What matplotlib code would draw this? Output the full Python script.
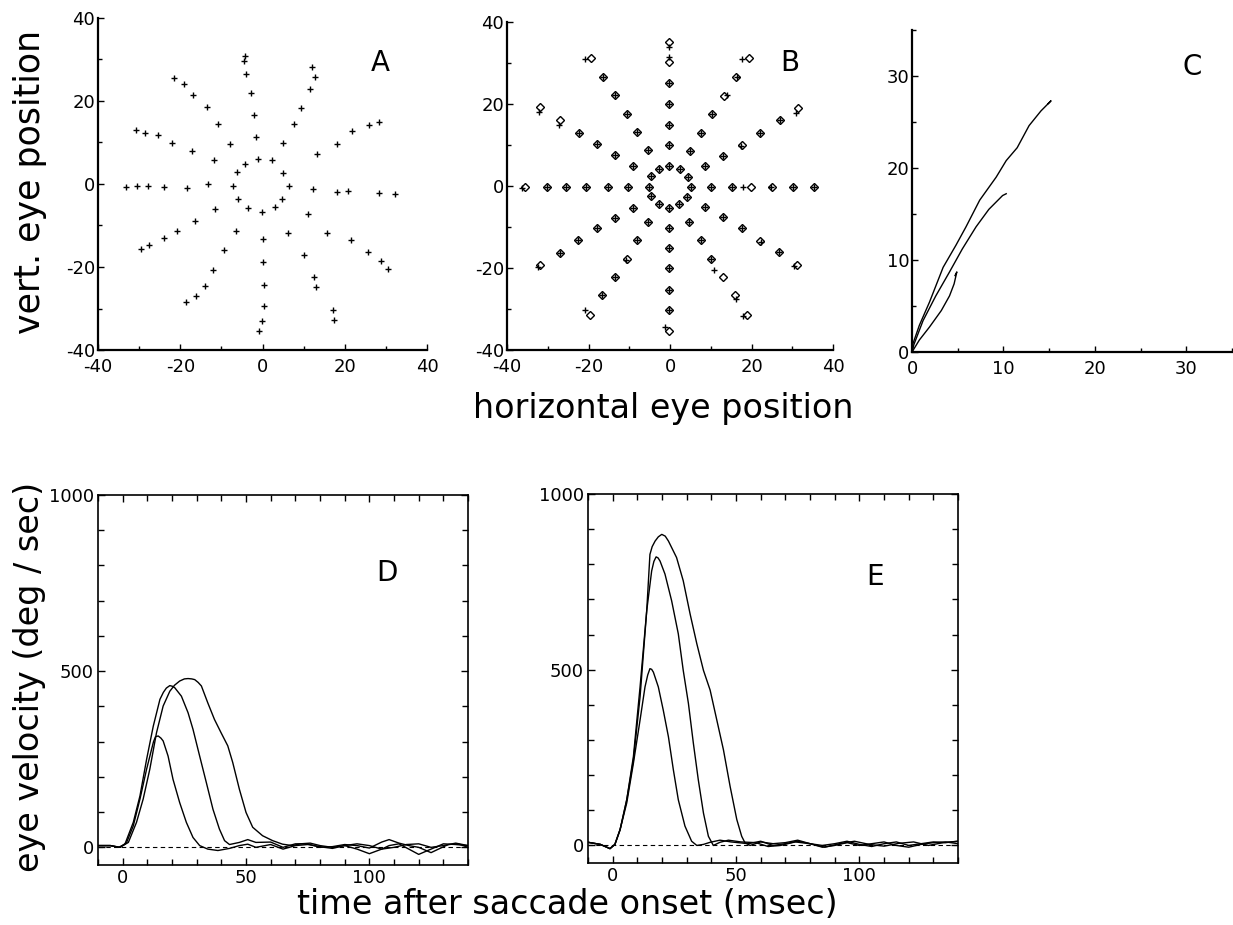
import numpy as np
import matplotlib
matplotlib.use("Agg")
import matplotlib.pyplot as plt
from matplotlib.ticker import MultipleLocator

plt.rcParams['font.family'] = ['DejaVu Sans']
plt.rcParams['axes.unicode_minus'] = False

# ---- panel A: saccade end points (+)
a_x = [-4.2, -4.4, -3.9, -2.9, -2.0, -1.5, -1.0,
       12.1, 12.7, 11.6, 9.3, 7.6, 5.0, 2.2,
       28.3, 25.9, 21.7, 18.2, 13.3, 5.0,
       32.1, 28.4, 20.9, 18.0, 12.3, 6.4,
       4.7, 11.0, 15.8, 21.6, 25.6, 28.8, 30.5,
       3.1, 6.3, 10.2, 12.6, 12.9, 17.1, 17.4,
       -0.2, 0.1, 0.2, 0.4, 0.4, -0.2, -0.8,
       -3.5, -6.4, -9.3, -12.0, -14.1, -16.1, -18.7,
       -5.9, -11.5, -16.4, -20.8, -24.0, -27.5, -29.5,
       -7.1, -13.3, -18.4, -23.9, -27.8, -30.6, -33.1,
       -6.3, -11.9, -17.1, -22.0, -25.3, -28.5, -30.7,
       -4.2, -7.9, -10.9, -13.6, -16.8, -19.2, -21.5]
a_y = [30.9, 29.7, 26.4, 21.9, 16.7, 11.3, 5.9,
       28.1, 25.8, 23.0, 18.4, 14.4, 9.8, 5.7,
       15.0, 14.1, 12.7, 9.6, 7.3, 2.7,
       -2.4, -2.1, -1.8, -1.9, -1.2, -0.6,
       -3.6, -7.2, -11.7, -13.5, -16.3, -18.5, -20.5,
       -5.6, -11.7, -17.0, -22.3, -24.8, -30.4, -32.8,
       -6.7, -13.3, -18.8, -24.4, -29.3, -33.1, -35.5,
       -5.9, -11.3, -15.8, -20.8, -24.5, -27.1, -28.5,
       -3.5, -6.1, -9.0, -11.3, -13.0, -14.6, -15.6,
       -0.4, 0.1, -1.0, -0.7, -0.5, -0.4, -0.7,
       2.8, 5.7, 8.0, 9.9, 11.8, 12.4, 13.0,
       4.9, 9.6, 14.4, 18.6, 21.4, 24.0, 25.6]

# ---- panel B: targets (diamonds) and eye positions (+)
b_target_x = [5.1, 10.0, 15.1, 19.9, 25.1, 30.2, 35.3,
              4.3, 8.6, 13.1, 17.6, 22.0, 26.9, 31.4,
              2.4, 5.0, 7.7, 10.4, 13.3, 16.2, 19.4,
              -0.2, -0.2, -0.2, -0.2, -0.2, -0.2, -0.2,
              -2.7, -5.4, -8.0, -10.6, -13.6, -16.4, -19.4,
              -4.7, -9.1, -13.6, -18.0, -22.4, -26.9, -31.8,
              -5.1, -10.3, -15.3, -20.5, -25.6, -30.2, -35.5,
              -4.7, -9.1, -13.6, -18.0, -22.7, -26.9, -31.9,
              -2.8, -5.4, -8.0, -10.6, -13.6, -16.7, -19.7,
              -0.2, -0.2, -0.2, -0.2, -0.2, -0.2, -0.2,
              2.2, 4.7, 7.5, 10.1, 12.9, 15.9, 19.0,
              4.2, 8.7, 13.1, 17.6, 22.0, 26.7, 31.2]
b_target_y = [-0.2, -0.2, -0.2, -0.2, -0.2, -0.2, -0.2,
              2.2, 4.9, 7.4, 10.0, 13.0, 16.0, 19.1,
              4.1, 8.5, 13.0, 17.5, 21.9, 26.6, 31.3,
              4.9, 9.9, 14.8, 19.9, 25.2, 30.2, 35.1,
              4.2, 8.7, 13.2, 17.5, 22.1, 26.6, 31.3,
              2.4, 5.0, 7.6, 10.3, 13.0, 16.2, 19.3,
              -0.2, -0.2, -0.2, -0.2, -0.2, -0.2, -0.2,
              -2.4, -5.3, -7.7, -10.3, -13.2, -16.4, -19.3,
              -4.5, -8.8, -13.1, -17.7, -22.1, -26.6, -31.4,
              -5.3, -10.2, -15.2, -20.1, -25.3, -30.2, -35.3,
              -4.5, -8.8, -13.2, -17.7, -22.3, -26.6, -31.5,
              -2.7, -5.1, -7.6, -10.2, -13.4, -16.2, -19.3]
b_eye_x = [5.1, 10.0, 15.1, 18.0, 24.8, 30.2, 35.3,
           4.3, 8.6, 13.1, 17.4, 22.0, 26.9, 30.9,
           2.4, 5.0, 7.7, 10.4, 13.9, 16.4, 17.6,
           -0.2, -0.2, -0.2, -0.2, -0.2, -0.2, -0.2,
           -2.7, -5.4, -8.0, -10.6, -13.6, -16.4, -20.9,
           -4.7, -9.1, -13.6, -18.0, -22.4, -27.2, -32.2,
           -5.1, -10.3, -15.3, -20.5, -25.6, -30.2, -36.3,
           -4.7, -9.1, -13.6, -18.0, -22.7, -26.9, -32.5,
           -2.8, -5.4, -8.0, -10.8, -13.6, -16.7, -20.8,
           -0.2, -0.2, -0.2, -0.2, -0.2, -0.2, -1.2,
           2.2, 4.7, 7.5, 10.1, 10.9, 16.1, 17.9,
           4.2, 8.7, 13.1, 17.6, 22.3, 26.7, 30.4]
b_eye_y = [-0.2, -0.2, -0.2, -0.2, -0.2, -0.2, -0.2,
           2.2, 4.9, 7.4, 9.8, 13.0, 16.0, 17.9,
           4.1, 8.5, 13.0, 17.5, 22.2, 26.7, 31.0,
           4.9, 9.9, 14.8, 19.9, 25.2, 31.4, 33.9,
           4.2, 8.7, 13.2, 17.5, 22.1, 26.6, 31.0,
           2.4, 5.0, 7.6, 10.3, 13.0, 15.0, 18.0,
           -0.2, -0.2, -0.2, -0.2, -0.2, -0.2, -0.4,
           -2.4, -5.3, -7.7, -10.3, -13.2, -16.4, -19.7,
           -4.5, -8.8, -13.1, -18.0, -22.1, -26.6, -30.2,
           -5.3, -10.2, -15.2, -20.1, -25.3, -30.2, -34.5,
           -4.5, -8.8, -13.2, -17.7, -20.6, -27.6, -31.7,
           -2.7, -5.1, -7.6, -10.2, -13.6, -16.2, -19.5]

# ---- panel C: trajectories
c1_x = [0, 0.1, 0.8, 1.9, 3.4, 4.8, 5.9, 7.4, 9.2, 10.3, 11.5, 12.8, 14.1, 15.0, 15.2, 14.9]
c1_y = [0, 0.9, 2.9, 5.4, 9.2, 11.6, 13.6, 16.5, 19.0, 20.8, 22.2, 24.6, 26.2, 27.1, 27.3, 27.0]
c2_x = [0, 0.2, 1.2, 2.6, 4.1, 5.5, 7.0, 8.4, 9.9, 10.3]
c2_y = [0, 0.8, 3.4, 6.1, 8.7, 11.2, 13.6, 15.5, 17.0, 17.2]
c3_x = [0, 0.8, 1.9, 3.2, 4.1, 4.6, 4.9, 4.7]
c3_y = [0, 1.3, 2.7, 4.5, 6.1, 7.4, 8.7, 8.3]

# ---- panel D: velocity traces
d1_t = [-10, -5, -1, 1.6, 4.3, 7, 9.7, 11.7, 12.5, 13.3, 14.4, 15.5, 16.4, 18.4, 20.4, 23.1,
        25.8, 28.5, 31.2, 34.5, 38.6, 43.3, 47.3, 50.7, 54, 60, 65, 70, 75, 80, 85, 90, 95,
        100, 105, 108, 112, 116, 120, 125, 130, 135, 140]
d1_v = [5, 5, 0, 14, 61, 137, 222, 278, 300, 314, 316, 310, 302, 259, 193, 127,
        71, 28, 5, -5, -9, -3, 5, 9, 0, 8, -5, 5, 8, 2, -3, 5, -5,
        -18, -5, 5, 10, -5, -20, -5, 10, 8, 5]
d2_t = [-10, -5, -1.7, 0.9, 4.3, 7, 9.7, 12.4, 15.1, 16.5, 17.7, 19.1, 20.2, 21.1, 23.8, 26.5,
        28.5, 31.2, 33.9, 36.6, 39.2, 41.3, 43.3, 47.3, 50.7, 54, 60, 65, 70, 75, 80, 85, 90,
        95, 100, 105, 108, 112, 116, 120, 125, 128, 132, 136, 140]
d2_v = [5, 5, 0, 9, 71, 146, 250, 344, 420, 440, 452, 459, 457, 453, 429, 382,
        335, 259, 184, 108, 52, 19, 8, 14, 22, 14, 15, 0, 10, 10, 0, 2, 8,
        5, -2, 15, 22, 12, 5, 0, -15, -5, 8, 10, 0]
d3_t = [-10, -5, -1.1, 2.3, 5.6, 8.3, 11, 13.7, 16.4, 19.1, 21, 23.1, 25, 26.5, 28, 29.2, 30.6,
        31.9, 34.5, 37.2, 39.9, 42.6, 44.6, 47.3, 50, 52.7, 56.7, 60.8, 64.8, 68.8, 72, 76,
        80, 85, 90, 95, 100, 105, 110, 115, 120, 125, 130, 135, 140]
d3_v = [5, 5, 0, 14, 71, 137, 222, 325, 401, 443, 460, 472, 478, 479, 478, 476, 468,
        458, 410, 363, 325, 288, 241, 165, 99, 57, 33, 19, 9, 5, 10, 12,
        5, 0, 5, 10, 5, -5, 0, 8, 10, 0, 5, 12, 5]

# ---- panel E: velocity traces
e1_t = [-10, -5, -1.1, 0.9, 3, 5.7, 8.4, 11.1, 13.1, 14.2, 15.1, 15.8, 16.5, 18.5, 20.5, 22.6,
        24.6, 26.6, 29.3, 32, 34.1, 36.8, 39.5, 43.5, 48, 55, 60, 65, 70, 75, 80, 85, 90, 95,
        100, 105, 110, 115, 120, 125, 130, 135, 140]
e1_v = [9, 3, -9, 3, 45, 121, 234, 357, 451, 485, 503, 501, 493, 451, 385, 309,
        215, 130, 55, 12, 0, 3, 9, 15, 10, 5, 12, 0, 5, 12, 5, -5, 0, 8,
        0, 5, 10, 0, -5, 3, 8, 10, 5]
e2_t = [-10, -5, -1.1, 0.9, 3, 5.7, 8.4, 11.1, 13.8, 15.8, 16.7, 17.6, 18.4, 19.2, 21.2, 23.9,
        26.6, 28.6, 30.7, 32.7, 34.7, 36.8, 38.8, 40.8, 43.5, 46.9, 52, 58, 63, 68, 74, 80,
        86, 92, 98, 104, 110, 116, 122, 128, 134, 140]
e2_v = [9, 3, -9, 3, 45, 130, 253, 451, 668, 781, 808, 821, 818, 809, 772, 696,
        602, 498, 404, 291, 187, 92, 26, 0, 9, 15, 10, 8, -3, 0, 10, 5,
        -5, 5, 12, 3, -2, 6, 10, 0, 8, 12]
e3_t = [-10, -5, -1.1, 0.9, 3, 5.7, 8.4, 11.1, 13.8, 15.1, 16, 17.2, 18.5, 19.9, 21.3, 22.6,
        25.9, 28.6, 31.4, 34.1, 36.8, 39.5, 42.2, 44.9, 47.6, 50.3, 52.3, 53.6, 55.7, 60, 65,
        70, 75, 80, 85, 90, 95, 100, 105, 110, 115, 120, 125, 130, 135, 140]
e3_v = [9, 3, -9, 3, 45, 130, 243, 423, 668, 828, 850, 866, 878, 885, 880, 866,
        819, 753, 658, 574, 498, 442, 357, 272, 168, 74, 26, 8, 0, 10, 5,
        8, 15, 5, 0, 5, 12, 3, -3, 5, 10, 0, 5, 10, 8, 12]

label_size = 24
tick_size = 13
letter_size = 20


def style_open(ax, lim, major, minor):
    # only left/bottom axis lines, ticks pointing inward
    ax.spines['top'].set_visible(False)
    ax.spines['right'].set_visible(False)
    ax.spines['left'].set_linewidth(1.6)
    ax.spines['bottom'].set_linewidth(1.6)
    ax.set_xlim(lim)
    ax.set_ylim(lim)
    ax.xaxis.set_major_locator(MultipleLocator(major))
    ax.yaxis.set_major_locator(MultipleLocator(major))
    ax.xaxis.set_minor_locator(MultipleLocator(minor))
    ax.yaxis.set_minor_locator(MultipleLocator(minor))
    ax.tick_params(which='both', direction='in', labelsize=tick_size, width=1)
    ax.tick_params(axis='x', pad=6)
    ax.tick_params(axis='y', pad=2)
    ax.tick_params(which='major', length=4)
    ax.tick_params(which='minor', length=3)


def style_box(ax):
    for s in ax.spines.values():
        s.set_linewidth(1.2)
    ax.set_xlim(-10, 140)
    ax.set_ylim(-50, 1000)
    ax.xaxis.set_major_locator(MultipleLocator(50))
    ax.xaxis.set_minor_locator(MultipleLocator(10))
    ax.yaxis.set_major_locator(MultipleLocator(500))
    ax.yaxis.set_minor_locator(MultipleLocator(100))
    ax.tick_params(which='both', direction='in', top=True, right=True,
                   labelsize=tick_size, width=1, pad=3)
    ax.tick_params(which='major', length=5)
    ax.tick_params(which='minor', length=4)


fig = plt.figure(figsize=(12.33, 9.25), dpi=100)

# A
axA = fig.add_axes([0.0795, 0.6216, 0.2668, 0.359])
axA.plot(a_x, a_y, '+', color='k', ms=4, mew=1)
style_open(axA, (-40, 40), 20, 10)
axA.text(0.857, 0.864, 'A', transform=axA.transAxes, fontsize=letter_size,
         ha='center', va='center')

# B
axB = fig.add_axes([0.4112, 0.6216, 0.2644, 0.3546])
axB.plot(b_target_x, b_target_y, 'D', mfc='white', mec='k', ms=4.5, mew=1)
axB.plot(b_eye_x, b_eye_y, '+', color='k', ms=4, mew=1)
style_open(axB, (-40, 40), 20, 10)
axB.text(0.868, 0.875, 'B', transform=axB.transAxes, fontsize=letter_size,
         ha='center', va='center')

# C
axC = fig.add_axes([0.7397, 0.6195, 0.2595, 0.3481])
for cx, cy in [(c1_x, c1_y), (c2_x, c2_y), (c3_x, c3_y)]:
    axC.plot(cx, cy, color='k', lw=1)
style_open(axC, (0, 35), 10, 5)
axC.text(0.875, 0.885, 'C', transform=axC.transAxes, fontsize=letter_size,
         ha='center', va='center')

# D
axD = fig.add_axes([0.0795, 0.0649, 0.3001, 0.4])
axD.axhline(0, color='k', lw=0.8, ls=(0, (4, 3)))
for t, v in [(d1_t, d1_v), (d2_t, d2_v), (d3_t, d3_v)]:
    axD.plot(t, v, color='k', lw=1)
style_box(axD)
axD.text(0.78, 0.79, 'D', transform=axD.transAxes, fontsize=letter_size,
         ha='center', va='center')

# E
axE = fig.add_axes([0.4769, 0.067, 0.3001, 0.399])
axE.axhline(0, color='k', lw=0.8, ls=(0, (4, 3)))
for t, v in [(e1_t, e1_v), (e2_t, e2_v), (e3_t, e3_v)]:
    axE.plot(t, v, color='k', lw=1)
style_box(axE)
axE.text(0.776, 0.775, 'E', transform=axE.transAxes, fontsize=letter_size,
         ha='center', va='center')

# shared axis titles
fig.text(0.024, 0.803, 'vert. eye position', rotation=90, fontsize=label_size + 1,
         ha='center', va='center')
fig.text(0.538, 0.558, 'horizontal eye position', fontsize=label_size,
         ha='center', va='center')
fig.text(0.024, 0.268, 'eye velocity (deg / sec)', rotation=90, fontsize=label_size,
         ha='center', va='center')
fig.text(0.46, 0.022, 'time after saccade onset (msec)', fontsize=label_size,
         ha='center', va='center')

fig.savefig('out.png', dpi=100)
